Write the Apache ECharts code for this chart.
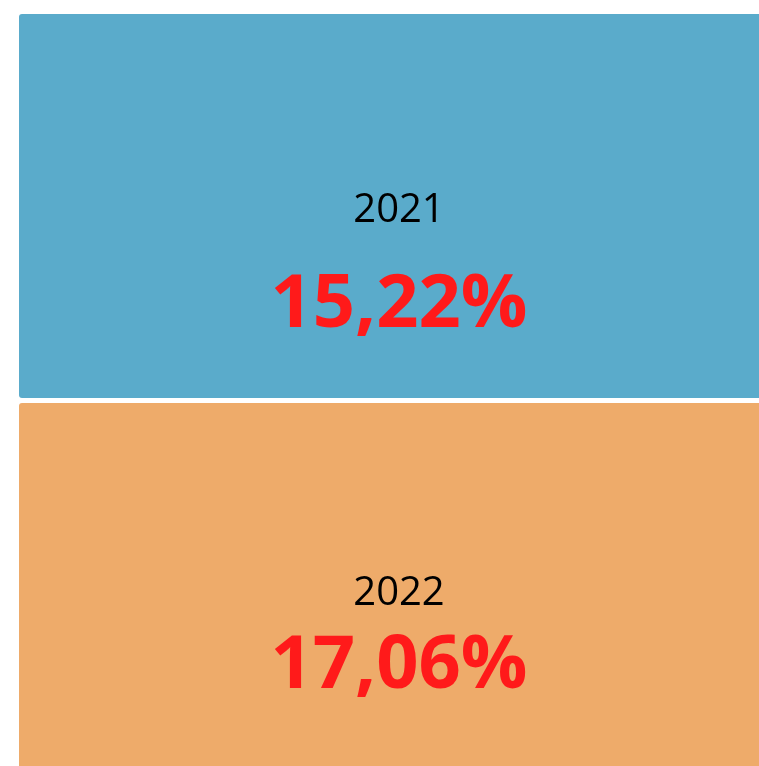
<!DOCTYPE html>
<html>
<head>
<meta charset="utf-8">
<script src="https://cdn.jsdelivr.net/npm/echarts@6/dist/echarts.min.js"></script>
<style>
  html, body { margin: 0; padding: 0; background: #fff; }
  #chart { width: 759px; height: 766px; }
</style>
</head>
<body>
<div id="chart"></div>
<script>
// years and rates (%)
const years = ['2021', '2022'];
const rates = [15.22, 17.06];
const colors = ['#5aabcb', '#eeab6a'];

// per-cell label spacing (tuned to the picture)
const valueLineHeights = [150, 105];
const labelOffsets = [172, 166];

const chart = echarts.init(document.getElementById('chart'));

const fmt = (v) => v.toFixed(2).replace('.', ',') + '%';

const data = years.map((y, i) => ({
  name: y,
  value: rates[i],
  itemStyle: { color: colors[i] },
  label: {
    offset: [0, labelOffsets[i]],
    rich: {
      y: { fontSize: 40, color: '#000', fontFamily: 'Open Sans', lineHeight: 40 },
      v: { fontSize: 74, fontWeight: 'bold', color: '#ff1a1a', fontFamily: 'Open Sans', lineHeight: valueLineHeights[i] }
    }
  }
}));

chart.setOption({
  animation: false,
  series: [{
    type: 'treemap',
    left: 19,
    top: 14,
    width: 760,
    height: 820,
    roam: false,
    nodeClick: false,
    breadcrumb: { show: false },
    sort: false,
    squareRatio: 0.3,
    itemStyle: { borderWidth: 0, gapWidth: 5, borderRadius: 3 },
    levels: [{ itemStyle: { borderWidth: 0, gapWidth: 5 } }],
    label: {
      show: true,
      position: 'inside',
      align: 'center',
      verticalAlign: 'middle',
      formatter: (p) => '{y|' + p.name + '}\n{v|' + fmt(p.value) + '}'
    },
    data: data
  }]
});

window.addEventListener('resize', () => chart.resize());
</script>
</body>
</html>
